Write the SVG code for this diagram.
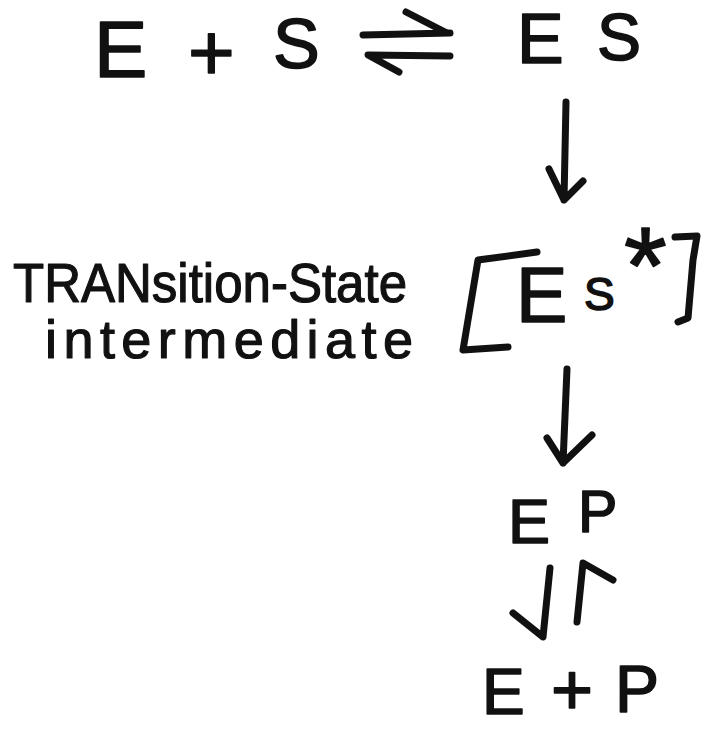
<svg xmlns="http://www.w3.org/2000/svg" width="709" height="729" viewBox="0 0 709 729">
<style>
.t{font-family:"Liberation Sans","DejaVu Sans",sans-serif;fill:#111;stroke:#111;stroke-width:1.6;stroke-linejoin:round}
.lb{font-family:"Liberation Sans","DejaVu Sans",sans-serif;fill:#111;stroke:#111;stroke-width:1.2;stroke-linejoin:round}
.ln{fill:none;stroke:#111;stroke-width:7;stroke-linecap:round;stroke-linejoin:round}
</style>
<rect width="709" height="729" fill="#fff"/>
<g id="node-E-plus-S">
<text class="t" x="94" y="77" font-size="80">E</text>
<text class="t" x="188" y="80" font-size="80">+</text>
<text class="t" x="273" y="68" font-size="70">S</text>
</g>
<g id="node-ES">
<text class="t" x="517" y="63" font-size="70">E</text>
<text class="t" x="597" y="60" font-size="66">S</text>
</g>
<g id="node-label">
<text class="lb" x="13" y="302" font-size="56" textLength="394" lengthAdjust="spacingAndGlyphs">TRANsition-State</text>
<text class="lb" x="45" y="358" font-size="54" textLength="368" lengthAdjust="spacing">intermediate</text>
</g>
<g id="node-ES-star">
<path class="ln" d="M537 252 L478 260 L463 350 L508 347"/>
<path class="ln" d="M675 237 L697 236 L693 260 L688 318 L678 322"/>
<text class="t" x="516" y="322" font-size="77">E</text>
<text class="t" x="584" y="310" font-size="46">S</text>
<text class="t" x="624" y="303" font-size="110">*</text>
</g>
<g id="node-EP">
<text class="t" x="508" y="543" font-size="63">E</text>
<text class="t" x="578" y="532" font-size="59">P</text>
</g>
<g id="node-E-plus-P">
<text class="t" x="482" y="714" font-size="64">E</text>
<text class="t" x="551" y="714" font-size="72">+</text>
<text class="t" x="615" y="712" font-size="66">P</text>
</g>
<g id="connectors">
<path class="ln" d="M363 35 L450 33 M406 12 L447 33"/>
<path class="ln" d="M450 56 L368 55 L399 72"/>
<path class="ln" d="M566 102 L564 200 M549 169 L564 200 L583 181"/>
<path class="ln" d="M567 369 L563 463 M547 438 L563 463 L592 435"/>
<path class="ln" d="M550 568 L543 637 L513 613"/>
<path class="ln" d="M577 622 L583 563 L613 580"/>
</g>
</svg>
